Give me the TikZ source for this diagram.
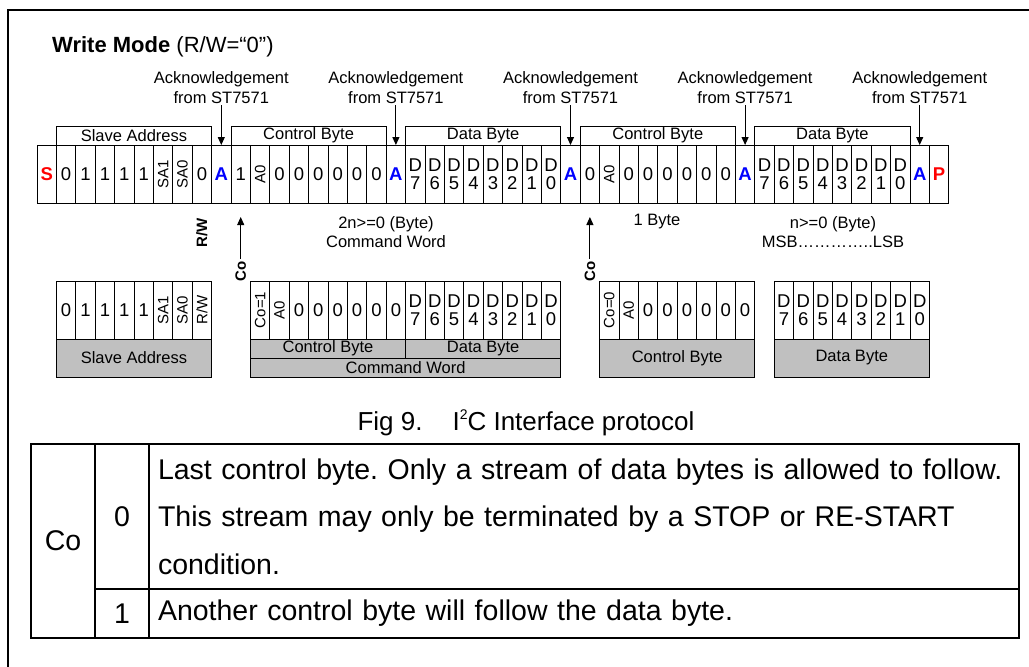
\documentclass[tikz,border=0pt]{standalone}
\usepackage{fontspec}
\setmainfont{Liberation Sans}
\usepackage{tikz}
\usetikzlibrary{arrows.meta,positioning}
\frenchspacing

\definecolor{bitred}{RGB}{255,0,0}
\definecolor{ackblue}{RGB}{0,0,255}
\definecolor{boxgray}{RGB}{192,192,192}

\newcommand{\bitfont}{\fontsize{18.5}{18}\selectfont}
\newcommand{\redbit}[1]{\textcolor{bitred}{\bfseries #1}}
\newcommand{\ackbit}{\textcolor{ackblue}{\bfseries A}}
\newcommand{\vbit}[1]{\rotatebox{90}{\fontsize{15}{15}\selectfont #1}}
\newcommand{\dbit}[1]{D\\#1}

\begin{document}
\begin{tikzpicture}[x=1pt, y=-1pt, >={Triangle[length=8pt, width=7pt]}]
  \tikzset{
    cell/.style={draw, rectangle, line width=1pt, inner sep=0pt, outer sep=0pt,
      minimum width=19.4pt, minimum height=58pt, anchor=north west,
      align=center, font=\bitfont},
    grp/.style={draw, rectangle, line width=1pt, inner sep=0pt, outer sep=0pt,
      minimum width=155.2pt, minimum height=19pt, anchor=south west,
      font=\fontsize{16.5}{16.5}\selectfont},
    greybox/.style={draw, rectangle, fill=boxgray, line width=1pt, inner sep=0pt,
      outer sep=0pt, minimum width=155.2pt, anchor=north west,
      font=\fontsize{16.5}{16.5}\selectfont},
    ack/.style={align=center, inner sep=1pt, font=\fontsize{16.5}{20}\selectfont},
    note/.style={align=center, inner sep=1pt, font=\fontsize{16.5}{19}\selectfont},
    side/.style={rotate=90, inner sep=2pt, font=\fontsize{15}{15}\selectfont\bfseries},
    tbl/.style={draw, rectangle, line width=2.2pt, inner sep=0pt, outer sep=0pt,
      anchor=north west, font=\fontsize{28.5}{47.5}\selectfont},
    desc/.style={tbl, minimum width=870pt, text width=852pt, inner xsep=9pt, align=left}
  }

  \useasboundingbox (0,0) rectangle (1029,667);
  \draw[line width=2pt] (1029,10) -- (8,10) -- (8,667);

  \node[anchor=west, inner sep=0pt, font=\fontsize{22}{22}\selectfont] (mode) at (52,47)
    {\textbf{Write Mode} (R/W=“0”)};

  % Write sequence
  \foreach \t [count=\i from 0] in {\redbit{S}, 0, 1, 1, 1, 1, \vbit{SA1}, \vbit{SA0}, 0, \ackbit,
      1, \vbit{A0}, 0, 0, 0, 0, 0, 0, \ackbit,
      \dbit{7}, \dbit{6}, \dbit{5}, \dbit{4}, \dbit{3}, \dbit{2}, \dbit{1}, \dbit{0}, \ackbit,
      0, \vbit{A0}, 0, 0, 0, 0, 0, 0, \ackbit,
      \dbit{7}, \dbit{6}, \dbit{5}, \dbit{4}, \dbit{3}, \dbit{2}, \dbit{1}, \dbit{0}, \ackbit,
      \redbit{P}} {
    \node[cell] (t\i) at ({37 + 19.4*\i}, 145) {\t};
  }

  \node[grp] (g1) at (t1.north west) {Slave Address};
  \node[grp] (g2) at (t10.north west) {Control Byte};
  \node[grp] (g3) at (t19.north west) {Data Byte};
  \node[grp] (g4) at (t28.north west) {Control Byte};
  \node[grp] (g5) at (t37.north west) {Data Byte};

  % Acknowledgements
  \foreach \c [count=\n] in {9, 18, 27, 36, 45} {
    \node[ack, above=40pt of t\c] (ak\n) {Acknowledgement\\from ST7571};
    \draw[->, line width=1pt] (ak\n) -- (t\c);
  }

  \node[side] (rw) at ([yshift=-30pt]t8.south) {R/W};
  \node[side] (co1) at ([yshift=-68pt]t10.south) {Co};
  \node[side] (co2) at ([yshift=-68pt]t28.south) {Co};
  \draw[->, line width=1pt, shorten >=14pt] (co1) -- (t10);
  \draw[->, line width=1pt, shorten >=14pt] (co2) -- (t28);

  \node[note] (cmdw) at (386, 232) {2n>=0 (Byte)\\Command Word};
  \node[note] (oneb) at (657, 222) {1 Byte};
  \node[note] (msb) at (833, 232) {n>=0 (Byte)\\MSB…………..LSB};

  % Slave address
  \foreach \t [count=\i from 1] in {0, 1, 1, 1, 1, \vbit{SA1}, \vbit{SA0}, {\vbit{R/W}}} {
    \node[cell] (s\i) at ({37 + 19.4*\i}, 281) {\t};
  }
  \node[greybox, minimum height=38pt] (sa) at (s1.south west) {Slave Address};

  % Command word
  \foreach \t [count=\i from 11] in {\vbit{Co=1}, \vbit{A0}, 0, 0, 0, 0, 0, 0,
      \dbit{7}, \dbit{6}, \dbit{5}, \dbit{4}, \dbit{3}, \dbit{2}, \dbit{1}, \dbit{0}} {
    \node[cell] (w\i) at ({37 + 19.4*\i}, 281) {\t};
  }
  \node[greybox, minimum height=19pt] (wc) at (w11.south west) {Control Byte};
  \node[greybox, minimum height=19pt] (wd) at (w19.south west) {Data Byte};
  \node[greybox, minimum height=19pt, minimum width=310.4pt] (ww) at (wc.south west) {Command Word};

  % Control byte
  \foreach \t [count=\i from 29] in {\vbit{Co=0}, \vbit{A0}, 0, 0, 0, 0, 0, 0} {
    \node[cell] (k\i) at ({37 + 19.4*\i}, 281) {\t};
  }
  \node[greybox, minimum height=38pt] (kc) at (k29.south west) {Control Byte};

  % Data byte
  \foreach \t [count=\i from 38] in {\dbit{7}, \dbit{6}, \dbit{5}, \dbit{4}, \dbit{3}, \dbit{2}, \dbit{1}, \dbit{0}} {
    \node[cell] (d\i) at ({37 + 19.4*\i}, 281) {\t};
  }
  \node[greybox, minimum height=38pt] (dd) at (d38.south west) {Data Byte};

  \node[font=\fontsize{26}{26}\selectfont] (cap) at (526, 423)
    {Fig 9.\hspace{30pt}I\raisebox{11pt}{\fontsize{14}{14}\selectfont 2}C Interface protocol};

  % Co table
  \node[tbl, minimum width=64pt, minimum height=194pt] (tco) at (31, 444) {Co};
  \node[tbl, minimum width=54pt, minimum height=145pt] (tz) at (tco.north east) {0};
  \node[desc, minimum height=145pt] (tzd) at (tz.north east)
    {Last control byte. Only a stream of data bytes is allowed to follow.\\
     This stream may only be terminated by a STOP or RE-START\\
     condition.};
  \node[tbl, minimum width=54pt, minimum height=49pt] (to) at (tz.south west) {1};
  \node[desc, minimum height=49pt] (tod) at (to.north east)
    {Another control byte will follow the data byte.};

\end{tikzpicture}
\end{document}
